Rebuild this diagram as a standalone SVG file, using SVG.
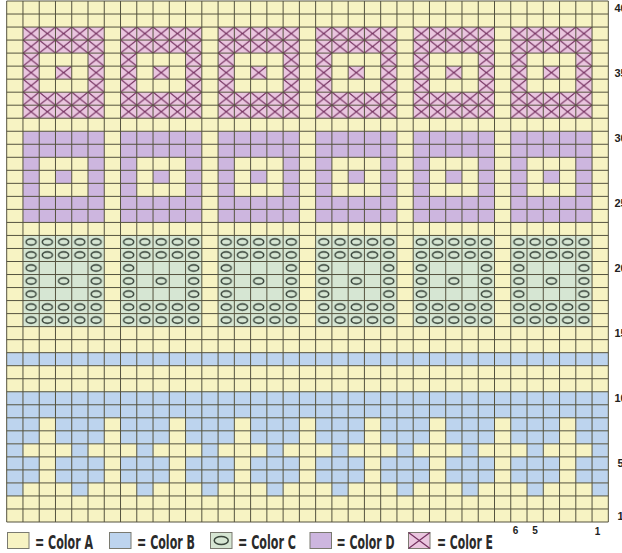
<svg xmlns="http://www.w3.org/2000/svg" width="622" height="553" viewBox="0 0 622 553">
<style>
.lab{font-family:"Liberation Sans","DejaVu Sans",Arial,sans-serif;font-weight:bold;font-size:11px;fill:#222;text-anchor:middle}
.cl{font-family:"Liberation Sans","DejaVu Sans",Arial,sans-serif;font-weight:bold;font-size:10px;fill:#222;text-anchor:middle}
.leg{font-family:"Liberation Sans Narrow","DejaVu Sans Condensed","Liberation Sans",sans-serif;font-weight:bold;font-size:19px;fill:#2a2a2a}
.box{stroke:#7a7a70;stroke-width:1}
</style>
<defs>
<pattern id="px" patternUnits="userSpaceOnUse" width="16.26" height="13.025"><rect width="16.26" height="13.025" fill="#eac6df"/><path d="M0 0L16.26 13.025M16.26 0L0 13.025" stroke="#74305f" stroke-width="1.2"/></pattern>
<pattern id="po" patternUnits="userSpaceOnUse" width="16.26" height="13.025"><rect width="16.26" height="13.025" fill="#d6e6d3"/><ellipse cx="8.13" cy="6.51" rx="5" ry="3.1" fill="none" stroke="#3a463c" stroke-width="1.5"/></pattern>
<pattern id="p1" patternUnits="userSpaceOnUse" x="6.7" y="0" width="65.04" height="600"><rect width="65.04" height="600" fill="#bdd4ee"/><rect x="32.52" width="16.26" height="600" fill="#f7f3c3"/></pattern>
<pattern id="p2" patternUnits="userSpaceOnUse" x="6.7" y="0" width="65.04" height="600"><rect width="65.04" height="600" fill="#f7f3c3"/><rect x="0" width="16.26" height="600" fill="#bdd4ee"/></pattern>
<g id="mE"><rect width="81.3" height="91.175" fill="url(#px)"/><rect x="16.26" y="26.05" width="48.78" height="39.075" fill="#f7f3c3"/><rect x="32.52" y="39.075" width="16.26" height="13.025" fill="url(#px)"/></g>
<g id="mD"><rect width="81.3" height="91.175" fill="#cdb6df"/><rect x="16.26" y="26.05" width="48.78" height="39.075" fill="#f7f3c3"/><rect x="32.52" y="39.075" width="16.26" height="13.025" fill="#cdb6df"/></g>
<g id="mC"><rect width="81.3" height="91.175" fill="url(#po)"/><rect x="16.26" y="26.05" width="48.78" height="39.075" fill="#d6e6d3"/><rect x="32.52" y="39.075" width="16.26" height="13.025" fill="url(#po)"/></g>
</defs>
<rect width="622" height="553" fill="#ffffff"/>
<g id="chart">
<rect x="6.7" y="1" width="601.62" height="521" fill="#f7f3c3"/>
<g id="colorE-band">
<use href="#mE" x="22.96" y="27.05"/><use href="#mE" x="120.52" y="27.05"/><use href="#mE" x="218.08" y="27.05"/><use href="#mE" x="315.64" y="27.05"/><use href="#mE" x="413.2" y="27.05"/><use href="#mE" x="510.76" y="27.05"/>
</g>
<g id="colorD-band">
<use href="#mD" x="22.96" y="131.25"/><use href="#mD" x="120.52" y="131.25"/><use href="#mD" x="218.08" y="131.25"/><use href="#mD" x="315.64" y="131.25"/><use href="#mD" x="413.2" y="131.25"/><use href="#mD" x="510.76" y="131.25"/>
</g>
<g id="colorC-band">
<use href="#mC" x="22.96" y="235.45"/><use href="#mC" x="120.52" y="235.45"/><use href="#mC" x="218.08" y="235.45"/><use href="#mC" x="315.64" y="235.45"/><use href="#mC" x="413.2" y="235.45"/><use href="#mC" x="510.76" y="235.45"/>
</g>
<g id="colorB-band">
<rect x="6.7" y="352.675" width="601.62" height="13.025" fill="#bdd4ee"/>
<rect x="6.7" y="391.75" width="601.62" height="26.05" fill="#bdd4ee"/>
<rect x="6.7" y="417.8" width="601.62" height="26.05" fill="url(#p1)"/>
<rect x="6.7" y="443.85" width="601.62" height="13.025" fill="url(#p2)"/>
<rect x="6.7" y="456.875" width="601.62" height="26.05" fill="url(#p1)"/>
<rect x="6.7" y="482.925" width="601.62" height="13.025" fill="url(#p2)"/>
</g>
<path id="grid" fill="none" stroke="#55533f" stroke-width="1" d="M6.7 1V522M22.96 1V522M39.22 1V522M55.48 1V522M71.74 1V522M88 1V522M104.26 1V522M120.52 1V522M136.78 1V522M153.04 1V522M169.3 1V522M185.56 1V522M201.82 1V522M218.08 1V522M234.34 1V522M250.6 1V522M266.86 1V522M283.12 1V522M299.38 1V522M315.64 1V522M331.9 1V522M348.16 1V522M364.42 1V522M380.68 1V522M396.94 1V522M413.2 1V522M429.46 1V522M445.72 1V522M461.98 1V522M478.24 1V522M494.5 1V522M510.76 1V522M527.02 1V522M543.28 1V522M559.54 1V522M575.8 1V522M592.06 1V522M608.32 1V522M6.7 1H608.32M6.7 14.025H608.32M6.7 27.05H608.32M6.7 40.075H608.32M6.7 53.1H608.32M6.7 66.125H608.32M6.7 79.15H608.32M6.7 92.175H608.32M6.7 105.2H608.32M6.7 118.225H608.32M6.7 131.25H608.32M6.7 144.275H608.32M6.7 157.3H608.32M6.7 170.325H608.32M6.7 183.35H608.32M6.7 196.375H608.32M6.7 209.4H608.32M6.7 222.425H608.32M6.7 235.45H608.32M6.7 248.475H608.32M6.7 261.5H608.32M6.7 274.525H608.32M6.7 287.55H608.32M6.7 300.575H608.32M6.7 313.6H608.32M6.7 326.625H608.32M6.7 339.65H608.32M6.7 352.675H608.32M6.7 365.7H608.32M6.7 378.725H608.32M6.7 391.75H608.32M6.7 404.775H608.32M6.7 417.8H608.32M6.7 430.825H608.32M6.7 443.85H608.32M6.7 456.875H608.32M6.7 469.9H608.32M6.7 482.925H608.32M6.7 495.95H608.32M6.7 508.975H608.32M6.7 522H608.32"/>
</g>
<g id="row-labels">
<text class="lab" x="620.5" y="11.5">40</text>
<text class="lab" x="620.5" y="76.6">35</text>
<text class="lab" x="620.5" y="141.8">30</text>
<text class="lab" x="620.5" y="206.9">25</text>
<text class="lab" x="620.5" y="272">20</text>
<text class="lab" x="620.5" y="337.1">15</text>
<text class="lab" x="620.5" y="402.3">10</text>
<text class="lab" x="620.5" y="467.4">5</text>
<text class="lab" x="620.5" y="519.5">1</text>
</g>
<g id="col-labels">
<text class="cl" x="515.5" y="534">6</text>
<text class="cl" x="535" y="534">5</text>
<text class="cl" x="597.5" y="534.5">1</text>
</g>
<g id="legend">
<g id="leg-A"><rect class="box" x="7.5" y="532.5" width="21.5" height="16" fill="#f7f3c3"/><text class="leg" x="35" y="549" textLength="58" lengthAdjust="spacingAndGlyphs">= Color A</text></g>
<g id="leg-B"><rect class="box" x="109.5" y="532.5" width="21.5" height="16" fill="#bdd4ee"/><text class="leg" x="137" y="549" textLength="58" lengthAdjust="spacingAndGlyphs">= Color B</text></g>
<g id="leg-C"><rect class="box" x="210.5" y="532.5" width="21.5" height="16" fill="#d6e6d3"/><ellipse cx="221.25" cy="540.5" rx="7" ry="4" fill="none" stroke="#3a463c" stroke-width="1.5"/><text class="leg" x="238" y="549" textLength="58" lengthAdjust="spacingAndGlyphs">= Color C</text></g>
<g id="leg-D"><rect class="box" x="310" y="532.5" width="21.5" height="16" fill="#cdb6df"/><text class="leg" x="336.5" y="549" textLength="58" lengthAdjust="spacingAndGlyphs">= Color D</text></g>
<g id="leg-E"><rect class="box" x="408.5" y="532.5" width="21.5" height="16" fill="#eac6df"/><path d="M408.5 532.5L430 548.5M430 532.5L408.5 548.5" stroke="#74305f" stroke-width="1.2"/><text class="leg" x="437" y="549" textLength="56" lengthAdjust="spacingAndGlyphs">= Color E</text></g>
</g>
</svg>
